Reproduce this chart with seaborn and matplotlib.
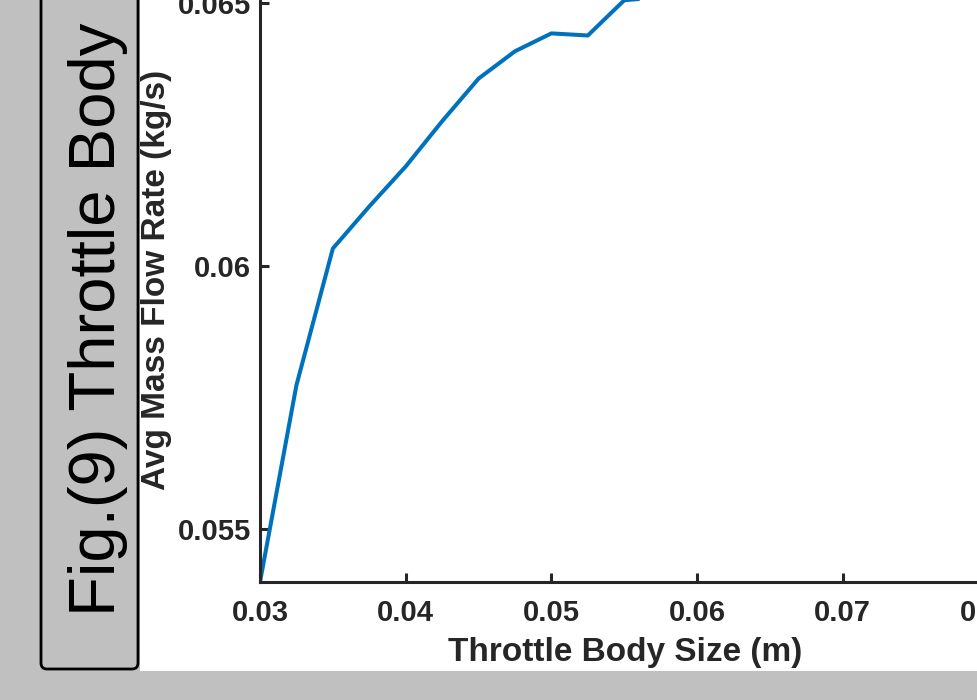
import matplotlib
matplotlib.use("Agg")
import matplotlib.pyplot as plt
from matplotlib.patches import Rectangle, FancyBboxPatch
from matplotlib.transforms import IdentityTransform
import seaborn as sns
import pandas as pd

# ---- data ----
throttle_size = [0.03, 0.0325, 0.035, 0.0375, 0.04, 0.0425, 0.045, 0.0475, 0.05,
                 0.0525, 0.055, 0.0575, 0.06, 0.0625, 0.065, 0.0675, 0.07,
                 0.0725, 0.075, 0.0775, 0.08]
mass_flow = [0.05400, 0.05774, 0.06034, 0.06114, 0.06190, 0.06276, 0.06357,
             0.06409, 0.06443, 0.06439, 0.06506, 0.06512, 0.06515, 0.06518,
             0.06520, 0.06535, 0.06550, 0.06560, 0.06570, 0.06580, 0.06590]
x_ticks = [0.03, 0.04, 0.05, 0.06, 0.07, 0.08]
x_tick_labels = ["0.03", "0.04", "0.05", "0.06", "0.07", "0.08"]
y_ticks = [0.055, 0.06, 0.065]
y_tick_labels = ["0.055", "0.06", "0.065"]
x_label = "Throttle Body Size (m)"
y_label = "Avg Mass Flow Rate (kg/s)"
fig_caption = "Fig.(9) Throttle Body"

df = pd.DataFrame({"size": throttle_size, "flow": mass_flow})

sns.set_theme(style="white")
plt.rcParams["font.family"] = ["Liberation Sans", "DejaVu Sans"]

W, H = 977, 700
GRAY = "#c0c0c0"
DARK = "#262626"
fig = plt.figure(figsize=(W / 100, H / 100), dpi=100, facecolor=GRAY)

# white page area
fig.patches.append(Rectangle((140 / W, 29 / H), (W - 140) / W, 671 / H,
                             transform=fig.transFigure, facecolor="white",
                             edgecolor="none", zorder=-2))
# rounded caption box (pixel coordinates)
box = FancyBboxPatch((41, 31), 97, 760, boxstyle="round,pad=0,rounding_size=6",
                     transform=IdentityTransform(), facecolor=GRAY,
                     edgecolor="black", linewidth=2.0, zorder=-1)
fig.patches.append(box)
fig.text(115, 84, fig_caption, transform=IdentityTransform(), rotation=90,
         rotation_mode="anchor", ha="left", va="baseline", fontsize=47,
         color="black", fontweight="normal")

# axes geometry
ylo, yhi = 0.054, 0.0655
px_per_y = 263 / 0.005
px_per_x = 145.7 / 0.01
ax_h = (yhi - ylo) * px_per_y
ax_w = (0.08 - 0.03) * px_per_x
ax = fig.add_axes([260 / W, 118 / H, ax_w / W, ax_h / H])
ax.set_facecolor("white")

sns.lineplot(data=df, x="size", y="flow", ax=ax, color="#0072BD",
             linewidth=2.9, estimator=None)

ax.set_xlim(0.03, 0.08)
ax.set_ylim(ylo, yhi)
ax.set_xticks(x_ticks)
ax.set_xticklabels(x_tick_labels)
ax.set_yticks(y_ticks)
ax.set_yticklabels(y_tick_labels)

for lab in ax.get_xticklabels() + ax.get_yticklabels():
    lab.set_fontweight("bold")
    lab.set_fontsize(21)
    lab.set_color(DARK)

ax.tick_params(axis="both", direction="in", length=6.5, width=2.2, color=DARK,
               bottom=True, left=True, top=False, right=False)
ax.tick_params(axis="x", pad=12)
ax.tick_params(axis="y", pad=6.5)

for sp in ax.spines.values():
    sp.set_color(DARK)
    sp.set_linewidth(2.2)

ax.set_xlabel(x_label, fontsize=24, fontweight="bold", color=DARK,
              va="center", ha="center")
ax.set_ylabel(y_label, fontsize=24, fontweight="bold", color=DARK,
              va="center", ha="center")
ax.xaxis.set_label_coords((625 - 260) / ax_w, (582 - 653) / ax_h)
ax.yaxis.set_label_coords((156 - 260) / ax_w, (582 - 280) / ax_h)

fig.savefig("out.png", dpi=100, facecolor=fig.get_facecolor())
